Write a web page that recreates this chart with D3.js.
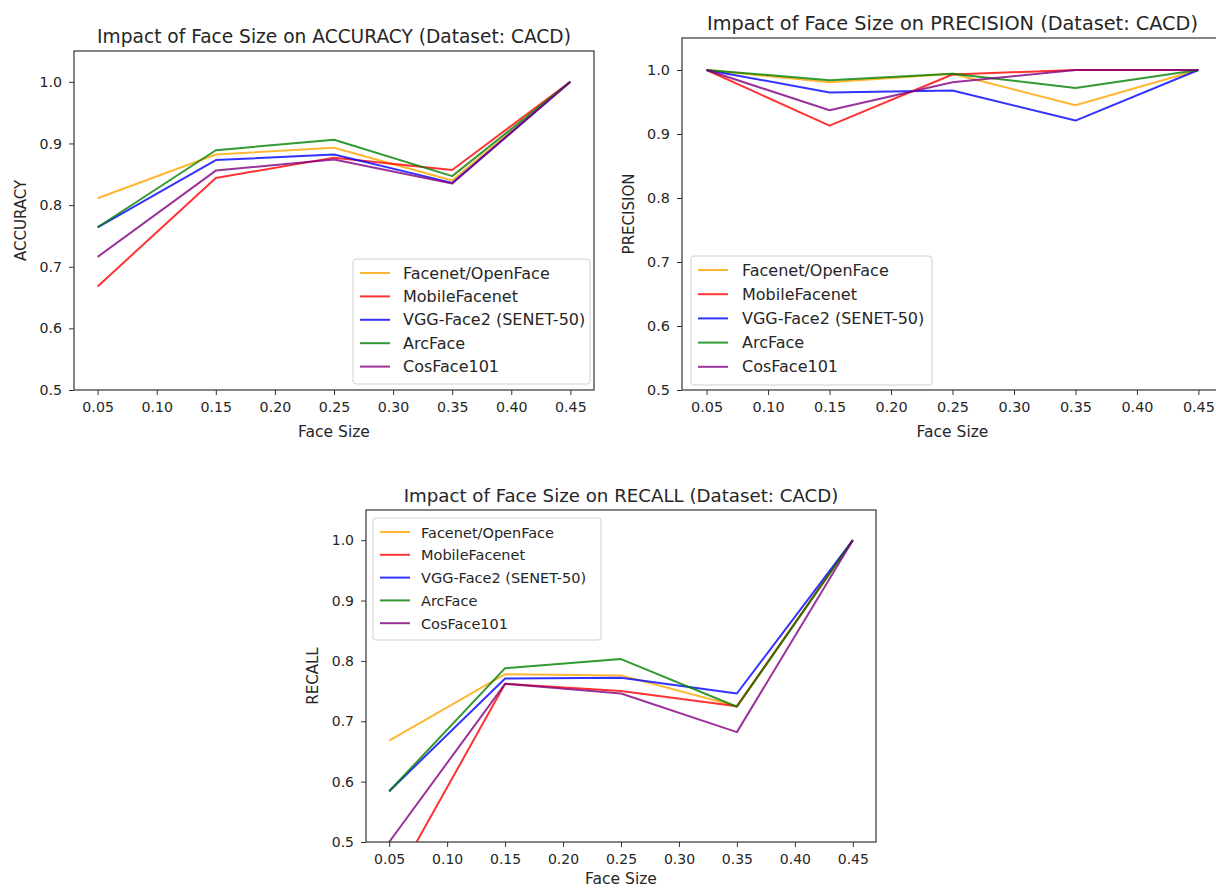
<!DOCTYPE html>
<html>
<head>
<meta charset="utf-8">
<script src="https://cdn.jsdelivr.net/npm/d3@7"></script>
<style>
  body { margin: 0; background: #fff; }
  svg { display: block; }
  text { font-family: "DejaVu Sans", sans-serif; fill: #262626; }
</style>
</head>
<body>
<svg id="chart" width="1216" height="888"></svg>
<script>
// ---- data ----
const faceSizes = [0.05, 0.15, 0.25, 0.35, 0.45];
const xTicks = [0.05, 0.10, 0.15, 0.20, 0.25, 0.30, 0.35, 0.40, 0.45];
const yTicks = [0.5, 0.6, 0.7, 0.8, 0.9, 1.0];
const models = ["Facenet/OpenFace", "MobileFacenet", "VGG-Face2 (SENET-50)", "ArcFace", "CosFace101"];
const modelColors = ["#FFA500", "#FF0000", "#0000FF", "#008000", "#800080"];

const accuracyFacenet = [0.811, 0.882, 0.893, 0.840, 1.0];
const accuracyMobile  = [0.668, 0.844, 0.877, 0.857, 1.0];
const accuracyVGG     = [0.764, 0.873, 0.882, 0.836, 1.0];
const accuracyArc     = [0.764, 0.889, 0.906, 0.847, 1.0];
const accuracyCos     = [0.716, 0.856, 0.874, 0.835, 1.0];

const precisionFacenet = [1.0, 0.981, 0.994, 0.945, 1.0];
const precisionMobile  = [1.0, 0.913, 0.993, 1.0, 1.0];
const precisionVGG     = [1.0, 0.965, 0.968, 0.921, 1.0];
const precisionArc     = [1.0, 0.984, 0.994, 0.972, 1.0];
const precisionCos     = [1.0, 0.937, 0.981, 1.0, 1.0];

const recallFacenet = [0.668, 0.778, 0.776, 0.725, 1.0];
const recallMobile  = [0.419, 0.762, 0.750, 0.725, 1.0];
const recallVGG     = [0.584, 0.771, 0.772, 0.746, 1.0];
const recallArc     = [0.584, 0.788, 0.803, 0.724, 1.0];
const recallCos     = [0.500, 0.762, 0.746, 0.682, 1.0];

// ---- drawing ----
const svg = d3.select("#chart");

function drawPanel(cfg, idx) {
  const {left, right, top, bottom, title, ylabel, series, legend, xlabOff, titleSize, tickSize} = cfg;
  const x = d3.scaleLinear().domain([0.03, 0.47]).range([left, right]);
  const y = d3.scaleLinear().domain([0.5, 1.05]).range([bottom, top]);
  const g = svg.append("g");

  const clipId = "clip" + idx;
  g.append("clipPath").attr("id", clipId).append("rect")
    .attr("x", left).attr("y", top).attr("width", right - left).attr("height", bottom - top);

  const line = d3.line().x((d, i) => x(faceSizes[i])).y(d => y(d));
  const lg = g.append("g").attr("clip-path", `url(#${clipId})`);
  series.forEach((vals, i) => {
    lg.append("path").datum(vals)
      .attr("d", line)
      .attr("fill", "none")
      .attr("stroke", modelColors[i])
      .attr("stroke-opacity", 0.8)
      .attr("stroke-width", 2)
      .attr("stroke-linejoin", "round");
  });

  // axes
  const xAxis = d3.axisBottom(x).tickValues(xTicks).tickFormat(d3.format(".2f")).tickSize(5).tickPadding(7);
  const yAxis = d3.axisLeft(y).tickValues(yTicks).tickFormat(d3.format(".1f")).tickSize(5).tickPadding(7);
  const gx = g.append("g").attr("transform", `translate(0,${bottom})`).call(xAxis);
  const gy = g.append("g").attr("transform", `translate(${left},0)`).call(yAxis);
  [gx, gy].forEach(a => {
    a.select(".domain").remove();
    a.selectAll(".tick line").attr("stroke", "#333").attr("stroke-width", 1);
    a.selectAll(".tick text").style("font-family", "DejaVu Sans").style("font-size", tickSize + "px").attr("fill", "#262626");
  });

  // frame
  g.append("rect").attr("x", left).attr("y", top)
    .attr("width", right - left).attr("height", bottom - top)
    .attr("fill", "none").attr("stroke", "#333").attr("stroke-width", 1.2);

  // title & labels
  const cx = (left + right) / 2;
  g.append("text").attr("x", cx).attr("y", top - 8).attr("text-anchor", "middle")
    .style("font-size", titleSize + "px").text(title);
  g.append("text").attr("x", cx).attr("y", bottom + xlabOff).attr("text-anchor", "middle")
    .style("font-size", "15.5px").text("Face Size");
  g.append("text").attr("transform", `translate(${left - 48},${(top + bottom) / 2}) rotate(-90)`)
    .attr("text-anchor", "middle").style("font-size", "15px").text(ylabel);

  // legend
  const L = legend;
  g.append("rect").attr("x", L.x).attr("y", L.y).attr("width", L.w).attr("height", L.rowH * models.length + 8)
    .attr("rx", 3).attr("fill", "#fff").attr("fill-opacity", 0.8)
    .attr("stroke", "#d0d0d0").attr("stroke-width", 1);
  models.forEach((m, i) => {
    const yy = L.y + 14 + i * L.rowH;
    g.append("line").attr("x1", L.x + 7).attr("x2", L.x + 37).attr("y1", yy).attr("y2", yy)
      .attr("stroke", modelColors[i]).attr("stroke-opacity", 0.8).attr("stroke-width", 2);
    g.append("text").attr("x", L.x + L.textOff).attr("y", yy + 5.5).style("font-size", L.font + "px").text(m);
  });
}

const panels = [
  {left: 74, right: 594, top: 51, bottom: 390, xlabOff: 47, titleSize: 18.6, tickSize: 14.2,
   title: "Impact of Face Size on ACCURACY (Dataset: CACD)", ylabel: "ACCURACY",
   series: [accuracyFacenet, accuracyMobile, accuracyVGG, accuracyArc, accuracyCos],
   legend: {x: 353, y: 259, w: 237, rowH: 23.4, font: 16, textOff: 50}},
  {left: 682, right: 1223, top: 38, bottom: 390, xlabOff: 47, titleSize: 19.3, tickSize: 14.4,
   title: "Impact of Face Size on PRECISION (Dataset: CACD)", ylabel: "PRECISION",
   series: [precisionFacenet, precisionMobile, precisionVGG, precisionArc, precisionCos],
   legend: {x: 691, y: 256, w: 241, rowH: 24.2, font: 16, textOff: 51}},
  {left: 366, right: 876, top: 510, bottom: 842, xlabOff: 42, titleSize: 18.2, tickSize: 14,
   title: "Impact of Face Size on RECALL (Dataset: CACD)", ylabel: "RECALL",
   series: [recallFacenet, recallMobile, recallVGG, recallArc, recallCos],
   legend: {x: 373, y: 518, w: 228, rowH: 22.8, font: 14.5, textOff: 48}}
];
panels.forEach((p, i) => drawPanel(p, i));
</script>
</body>
</html>
